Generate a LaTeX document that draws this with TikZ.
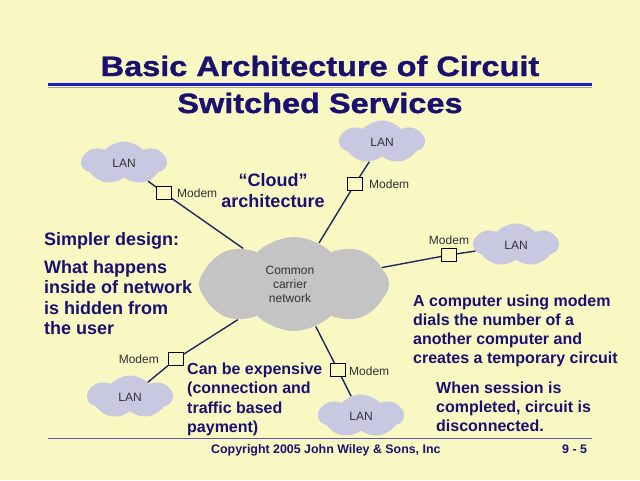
\documentclass[tikz,border=0pt]{standalone}
\usepackage{fontspec}
\setmainfont{Liberation Sans}
\newfontfamily\titlefont{Liberation Sans Bold}[FakeStretch=1.16, FakeBold=1.2]
\usetikzlibrary{shapes.symbols}
\definecolor{bg}{HTML}{F9F8C2}
\definecolor{navy}{HTML}{1A1070}
\definecolor{linkc}{HTML}{202860}
\definecolor{lanfill}{HTML}{C8C8E0}
\definecolor{ccfill}{HTML}{C4C4C4}
\definecolor{labgray}{HTML}{303038}
\definecolor{rulebl}{HTML}{1E1EC8}
\definecolor{rulegr}{HTML}{A0A0C4}
\definecolor{footrule}{HTML}{5A5AB0}
\tikzset{
  lan/.style={cloud, cloud puffs=7, cloud puff arc=95, cloud ignores aspect,
    fill=lanfill, minimum width=85pt, minimum height=43pt, inner sep=0pt,
    font=\fontsize{12}{14}\selectfont, text=labgray},
  ccloud/.style={cloud, cloud puffs=8, cloud puff arc=90, cloud ignores aspect,
    fill=ccfill, minimum width=190pt, minimum height=94pt, inner sep=0pt},
  modembox/.style={draw=black, line width=0.8pt, fill=bg, minimum width=15pt,
    minimum height=13pt, inner sep=0pt},
  smalllab/.style={font=\fontsize{12}{14}\selectfont, text=labgray, inner sep=0pt},
  link/.style={draw=linkc, line width=1.4pt},
  titletext/.style={font=\titlefont\fontsize{28}{30}\selectfont, text=navy, inner sep=0pt, anchor=base},
  bigtext/.style={font=\fontsize{18}{20}\selectfont\bfseries, text=navy, inner sep=0pt, anchor=base west},
  midtext/.style={font=\fontsize{16}{18}\selectfont\bfseries, text=navy, inner sep=0pt, anchor=base west},
  foottext/.style={font=\fontsize{12.4}{14}\selectfont\bfseries, text=navy, inner sep=0pt, anchor=base west},
}
\begin{document}
\begin{tikzpicture}[x=1pt,y=-1pt]
\useasboundingbox (0,0) rectangle (640,480);
\fill[bg] (0,0) rectangle (640,480);

% title
\node[titletext] (t1) at (320,76) {Basic Architecture of Circuit};
\node[titletext] (t2) at (320,113) {Switched Services};
\draw[rulebl, line width=3pt] (48,84.5) -- (592,84.5);
\draw[rulegr, line width=1.3pt] (48,87.2) -- (592,87.2);

% clouds
\node[ccloud] (cc) at (294,284) {};
\node[font=\fontsize{12}{14}\selectfont, text=labgray, align=center, inner sep=0pt] (cctext) at (290,284) {Common\\carrier\\network};
\node[lan] (lanA) at (124,163) {LAN};
\node[lan] (lanB) at (382,142) {LAN};
\node[lan] (lanC) at (516,245) {LAN};
\node[lan] (lanD) at (130,397) {LAN};
\node[lan] (lanE) at (361,416) {LAN};

% modems
\node[modembox] (modA) at (164,193) {};
\node[modembox] (modB) at (355,184) {};
\node[modembox] (modC) at (449,255) {};
\node[modembox] (modD) at (176,359) {};
\node[modembox] (modE) at (338,370) {};

% connectors
\draw[link] (lanA) -- (modA) -- (cc);
\draw[link] (lanB) -- (modB) -- (cc);
\draw[link] (cc) -- (modC) -- (lanC);
\draw[link] (cc) -- (modD) -- (lanD);
\draw[link] (cc) -- (modE) -- (lanE);

% modem labels
\node[smalllab, anchor=west] (mlA) at (177,193) {Modem};
\node[smalllab, anchor=west] (mlB) at (369,184) {Modem};
\node[smalllab] (mlC) at (449,240) {Modem};
\node[smalllab, anchor=east] (mlD) at (159,359) {Modem};
\node[smalllab, anchor=west] (mlE) at (349,371) {Modem};

% cloud architecture
\node[font=\fontsize{18}{20}\selectfont\bfseries, text=navy, inner sep=0pt, anchor=base] (ca1) at (273,186) {“Cloud”};
\node[font=\fontsize{18}{20}\selectfont\bfseries, text=navy, inner sep=0pt, anchor=base] (ca2) at (273,207) {architecture};

% left text
\node[bigtext] (s0) at (44,245) {Simpler design:};
\node[bigtext] (s1) at (44,273) {What happens};
\node[bigtext] (s2) at (44,293.5) {inside of network};
\node[bigtext] (s3) at (44,314) {is hidden from};
\node[bigtext] (s4) at (44,334.5) {the user};

% middle text
\node[midtext] (e1) at (187,374) {Can be expensive};
\node[midtext] (e2) at (187,393.5) {(connection and};
\node[midtext] (e3) at (187,413) {traffic based};
\node[midtext] (e4) at (187,432.5) {payment)};

% right text
\node[midtext] (r1) at (413,306.5) {A computer using modem};
\node[midtext] (r2) at (413,325.5) {dials the number of a};
\node[midtext] (r3) at (413,344.5) {another computer and};
\node[midtext] (r4) at (413,363.5) {creates a temporary circuit};
\node[midtext] (w1) at (436,393.3) {When session is};
\node[midtext] (w2) at (436,412.3) {completed, circuit is};
\node[midtext] (w3) at (436,431.3) {disconnected.};

% footer
\draw[footrule, line width=1.2pt] (48,438.3) -- (592,438.3);
\node[foottext] (f1) at (211,453) {Copyright 2005 John Wiley \& Sons, Inc};
\node[foottext] (f2) at (562,453) {9 - 5};
\end{tikzpicture}
\end{document}
